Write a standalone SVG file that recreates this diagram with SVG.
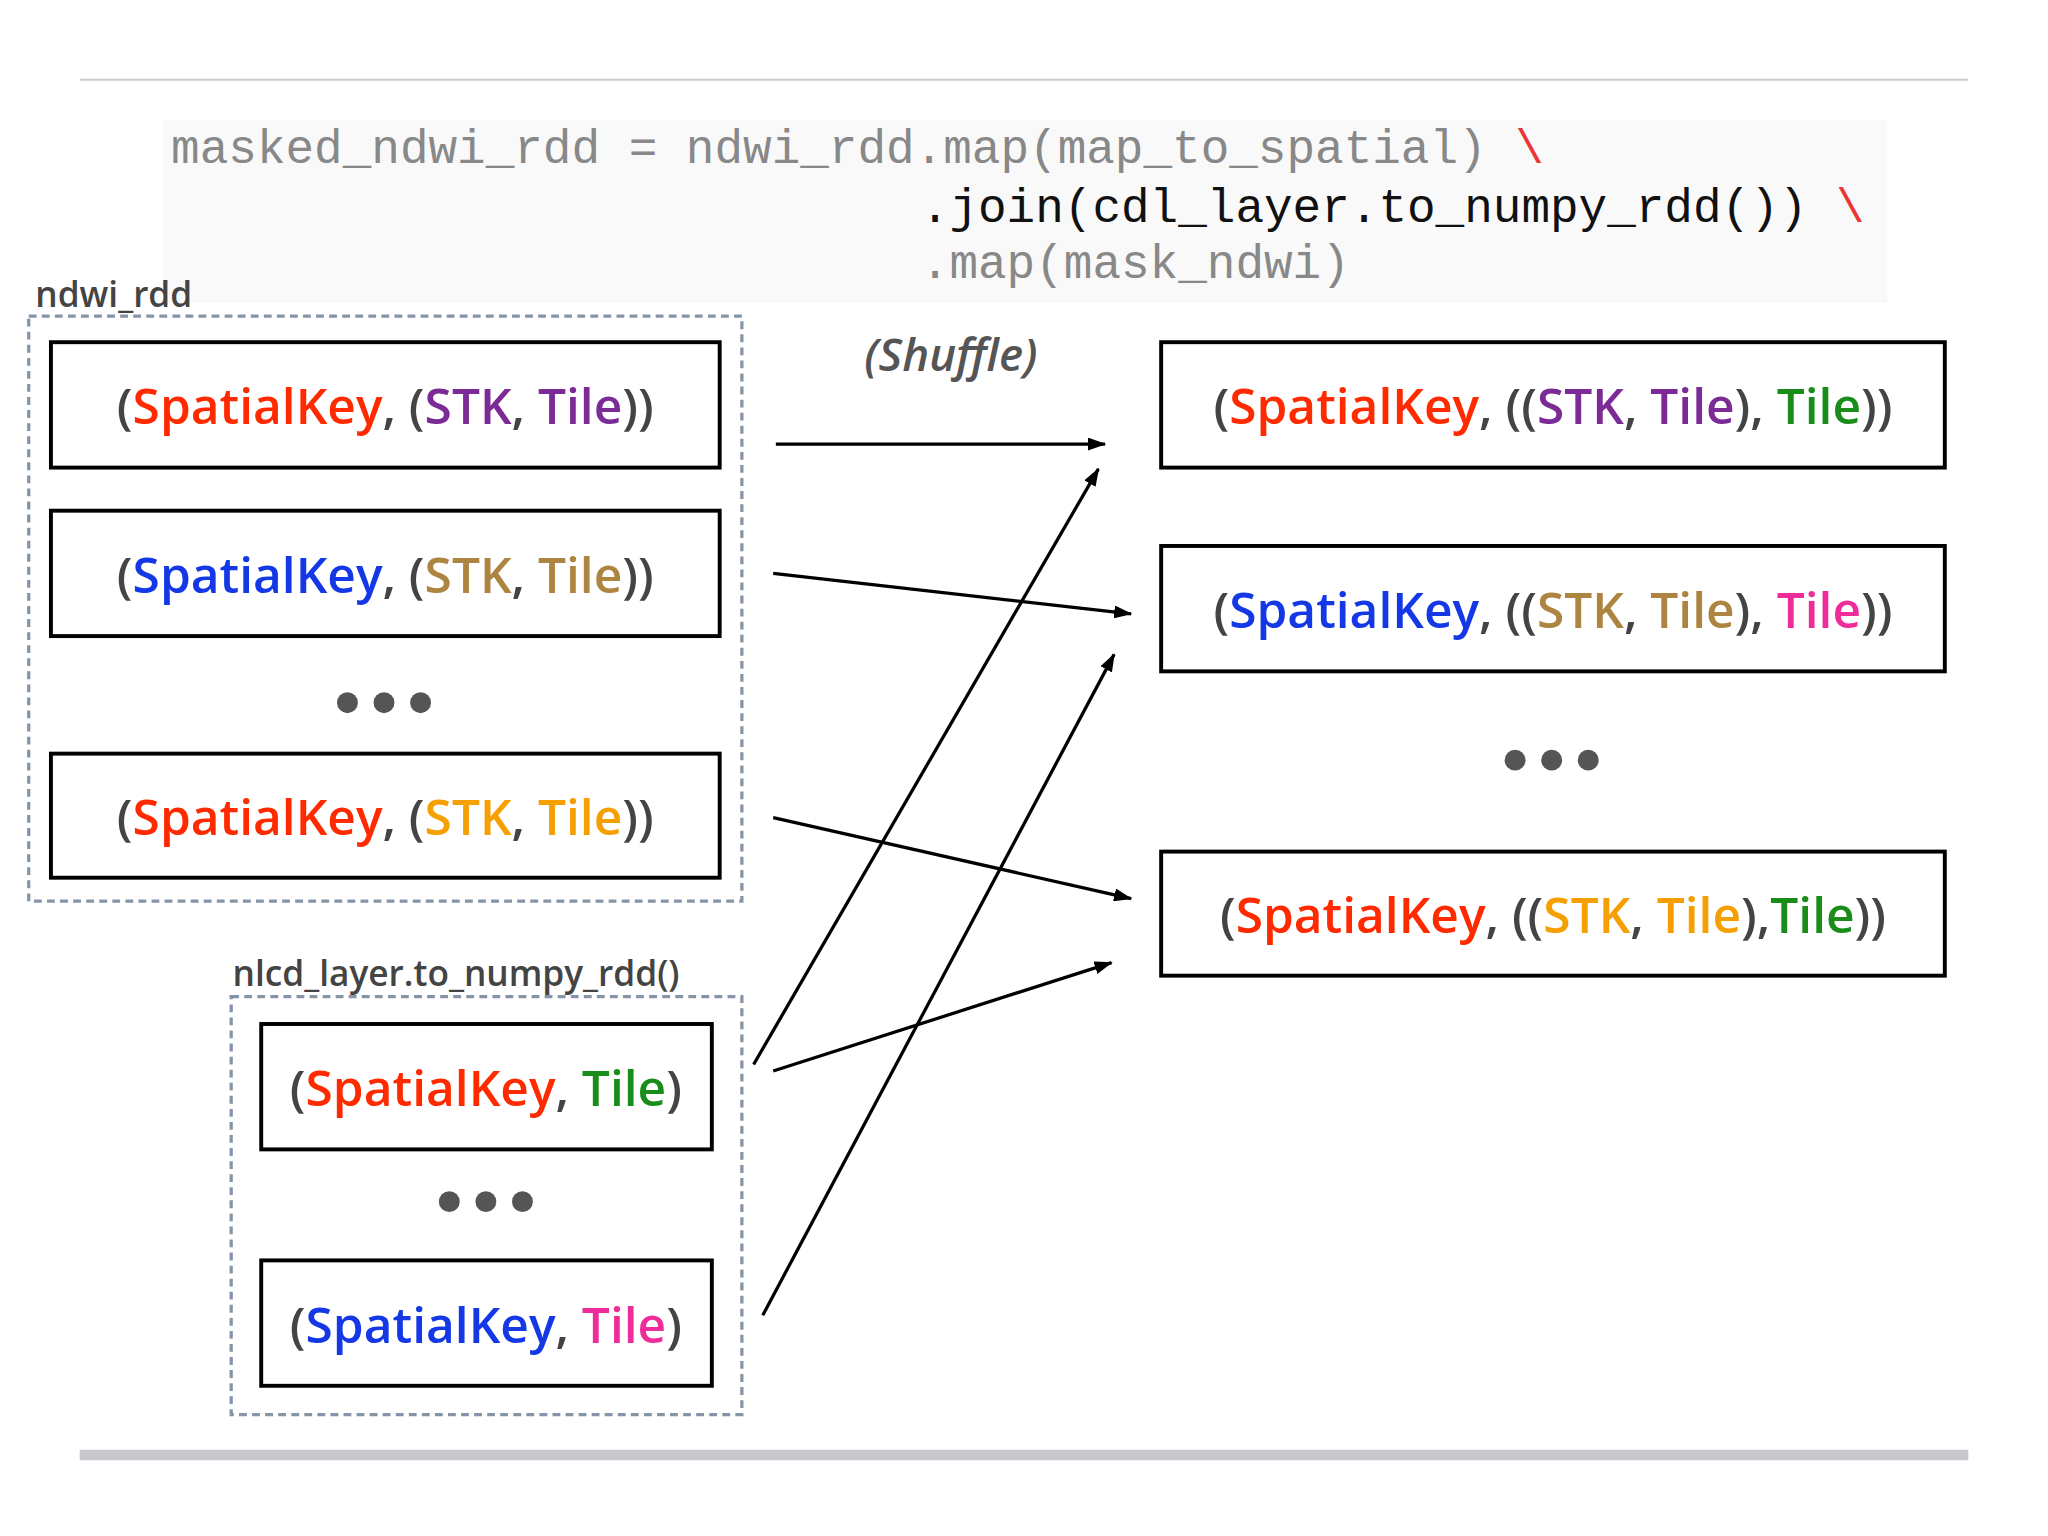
<svg xmlns="http://www.w3.org/2000/svg" width="2048" height="1536" viewBox="0 0 2048 1536">
<defs>
<marker id="ah" markerWidth="14" markerHeight="10" refX="13" refY="5" orient="auto" markerUnits="userSpaceOnUse"><path d="M0,0 L14,5 L0,10 Z" fill="#000"/></marker>
<style>
.code{font-family:"Liberation Mono",monospace;font-size:36.5px}
.lbl{font-family:"Open Sans","Noto Sans",sans-serif;font-size:27px;font-weight:600;fill:#444}
.t{font-family:"Open Sans","Noto Sans",sans-serif;font-size:38px;font-weight:600;fill:#444;text-anchor:middle}
.box{fill:#fff;stroke:#000;stroke-width:3}
.dash{fill:none;stroke:#8595a8;stroke-width:2.5;stroke-dasharray:6,4}
.dot{fill:#555}
.ar{stroke:#000;stroke-width:2.5;fill:none;marker-end:url(#ah)}
.r{fill:#ff2a00}.p{fill:#7b2a96}.b{fill:#1438e6}.br{fill:#ad8440}.o{fill:#f5a000}.g{fill:#1a8c1a}.m{fill:#ee2d9a}
</style>
</defs>
<rect width="2048" height="1536" fill="#fff"/>
<g transform="scale(1.30612)">
<line x1="61" y1="61" x2="1507" y2="61" stroke="#ccc" stroke-width="1.5"/>
<line x1="61" y1="1114" x2="1507" y2="1114" stroke="#c8c8cc" stroke-width="8"/>
<g id="code">
<rect x="125" y="92" width="1320" height="140" fill="#f9f9f9"/>
<text class="code" x="131" y="125" fill="#888">masked_ndwi_rdd = ndwi_rdd.map(map_to_spatial) <tspan fill="#e33">\</tspan></text>
<text class="code" x="705" y="170" fill="#111">.join(cdl_layer.to_numpy_rdd()) <tspan fill="#e33">\</tspan></text>
<text class="code" x="705" y="213" fill="#888">.map(mask_ndwi)</text>
</g>
<g id="ndwi_rdd">
<rect class="dash" x="22" y="242" width="546" height="448"/>
<text class="lbl" x="27" y="235">ndwi_rdd</text>
</g>
<g id="l1"><rect class="box" x="39" y="262" width="512" height="96"/><text class="t" x="295" y="325">(<tspan class="r">SpatialKey</tspan>, (<tspan class="p">STK</tspan>, <tspan class="p">Tile</tspan>))</text></g>
<g id="l2"><rect class="box" x="39" y="391" width="512" height="96"/><text class="t" x="295" y="454">(<tspan class="b">SpatialKey</tspan>, (<tspan class="br">STK</tspan>, <tspan class="br">Tile</tspan>))</text></g>
<g id="ld"><circle class="dot" cx="266" cy="538" r="8"/><circle class="dot" cx="294" cy="538" r="8"/><circle class="dot" cx="322" cy="538" r="8"/></g>
<g id="l3"><rect class="box" x="39" y="577" width="512" height="95"/><text class="t" x="295" y="639">(<tspan class="r">SpatialKey</tspan>, (<tspan class="o">STK</tspan>, <tspan class="o">Tile</tspan>))</text></g>
<g id="nlcd">
<rect class="dash" x="177" y="763" width="391" height="320"/>
<text class="lbl" x="178" y="755">nlcd_layer.to_numpy_rdd()</text>
</g>
<g id="n1"><rect class="box" x="200" y="784" width="345" height="96"/><text class="t" x="372" y="847">(<tspan class="r">SpatialKey</tspan>, <tspan class="g">Tile</tspan>)</text></g>
<g id="nd"><circle class="dot" cx="344" cy="920" r="8"/><circle class="dot" cx="372" cy="920" r="8"/><circle class="dot" cx="400" cy="920" r="8"/></g>
<g id="n2"><rect class="box" x="200" y="965" width="345" height="96"/><text class="t" x="372" y="1028">(<tspan class="b">SpatialKey</tspan>, <tspan class="m">Tile</tspan>)</text></g>
<g id="r1"><rect class="box" x="889" y="262" width="600" height="96"/><text class="t" x="1189" y="325">(<tspan class="r">SpatialKey</tspan>, ((<tspan class="p">STK</tspan>, <tspan class="p">Tile</tspan>), <tspan class="g">Tile</tspan>))</text></g>
<g id="r2"><rect class="box" x="889" y="418" width="600" height="96"/><text class="t" x="1189" y="481">(<tspan class="b">SpatialKey</tspan>, ((<tspan class="br">STK</tspan>, <tspan class="br">Tile</tspan>), <tspan class="m">Tile</tspan>))</text></g>
<g id="rd"><circle class="dot" cx="1160" cy="582" r="8"/><circle class="dot" cx="1188" cy="582" r="8"/><circle class="dot" cx="1216" cy="582" r="8"/></g>
<g id="r3"><rect class="box" x="889" y="652" width="600" height="95"/><text class="t" x="1189" y="714">(<tspan class="r">SpatialKey</tspan>, ((<tspan class="o">STK</tspan>, <tspan class="o">Tile</tspan>),<tspan class="g">Tile</tspan>))</text></g>
<text x="728" y="284" font-family="'Open Sans','Noto Sans',sans-serif" font-size="35" font-weight="600" font-style="italic" fill="#555" text-anchor="middle">(Shuffle)</text>
<g id="connectors">
<line class="ar" x1="594" y1="340" x2="846" y2="340"/>
<line class="ar" x1="592" y1="439" x2="866" y2="470"/>
<line class="ar" x1="592" y1="626" x2="866" y2="688"/>
<line class="ar" x1="577" y1="815" x2="841" y2="359"/>
<line class="ar" x1="592" y1="820" x2="851" y2="737"/>
<line class="ar" x1="584" y1="1007" x2="853" y2="501"/>
</g>
</g>
</svg>
